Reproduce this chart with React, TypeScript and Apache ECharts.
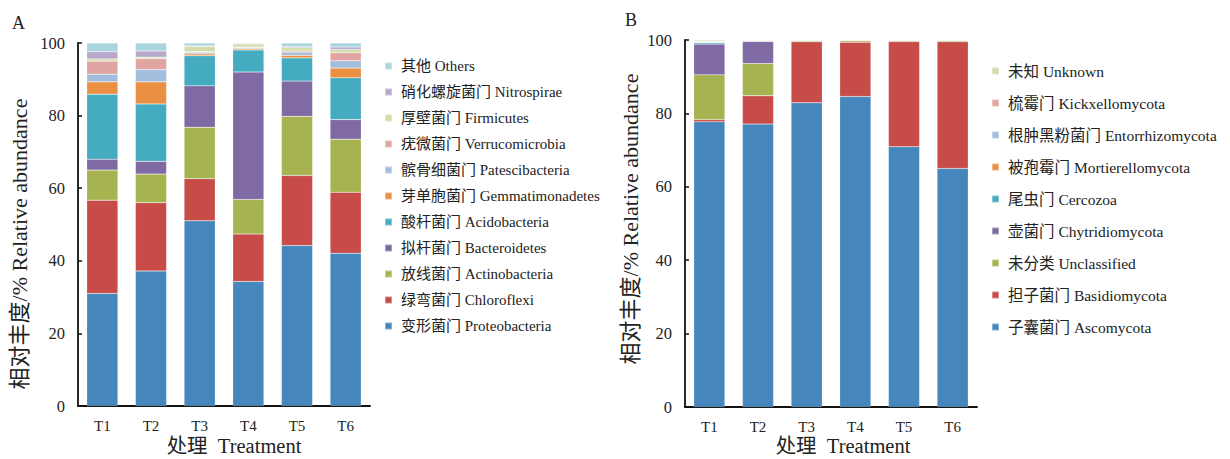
import React, { useEffect, useRef } from "react";
import * as echarts from "echarts";

const categories = ["T1", "T2", "T3", "T4", "T5", "T6"];
const yTicks = [0, 20, 40, 60, 80, 100];

// Panel A: bacteria (bottom to top)
const bacteriaNames = [
  "变形菌门 Proteobacteria",
  "绿弯菌门 Chloroflexi",
  "放线菌门 Actinobacteria",
  "拟杆菌门 Bacteroidetes",
  "酸杆菌门 Acidobacteria",
  "芽单胞菌门 Gemmatimonadetes",
  "髌骨细菌门 Patescibacteria",
  "疣微菌门 Verrucomicrobia",
  "厚壁菌门 Firmicutes",
  "硝化螺旋菌门 Nitrospirae",
  "其他 Others",
];
const proteobacteria = [31.0, 37.2, 51.0, 34.3, 44.2, 42.1];
const chloroflexi = [25.7, 18.8, 11.6, 13.1, 19.3, 16.8];
const actinobacteria = [8.3, 7.9, 14.2, 9.5, 16.3, 14.6];
const bacteroidetes = [3.0, 3.5, 11.4, 35.1, 9.7, 5.4];
const acidobacteria = [17.9, 15.8, 8.3, 6.1, 6.4, 11.5];
const gemmatimonadetes = [3.4, 6.1, 0.5, 0.3, 0.7, 2.7];
const patescibacteria = [2.1, 3.4, 0.4, 0.3, 0.9, 2.0];
const verrucomicrobia = [3.6, 3.0, 0.2, 0.2, 0.3, 2.2];
const firmicutes = [0.6, 0.4, 1.4, 0.8, 0.9, 0.9];
const nitrospirae = [2.0, 1.7, 0.2, 0.2, 0.3, 0.7];
const othersA = [2.4, 2.2, 0.8, 0.1, 1.0, 1.1];
const bacteriaValues = [
  proteobacteria, chloroflexi, actinobacteria, bacteroidetes, acidobacteria,
  gemmatimonadetes, patescibacteria, verrucomicrobia, firmicutes, nitrospirae, othersA,
];

// Panel B: fungi (bottom to top)
const fungiNames = [
  "子囊菌门 Ascomycota",
  "担子菌门 Basidiomycota",
  "未分类 Unclassified",
  "壶菌门 Chytridiomycota",
  "尾虫门 Cercozoa",
  "被孢霉门 Mortierellomycota",
  "根肿黑粉菌门 Entorrhizomycota",
  "梳霉门 Kickxellomycota",
  "未知 Unknown",
];
const ascomycota = [77.7, 77.1, 82.9, 84.6, 70.9, 65.0];
const basidiomycota = [0.6, 7.7, 16.6, 14.8, 28.7, 34.5];
const unclassified = [12.2, 8.8, 0.3, 0.4, 0.3, 0.4];
const chytridiomycota = [8.4, 6.0, 0.0, 0.0, 0.0, 0.0];
const cercozoa = [0.4, 0.1, 0.0, 0.0, 0.0, 0.0];
const mortierellomycota = [0.1, 0.2, 0.0, 0.2, 0.0, 0.0];
const entorrhizomycota = [0.2, 0.0, 0.2, 0.0, 0.0, 0.0];
const kickxellomycota = [0.1, 0.0, 0.0, 0.0, 0.0, 0.0];
const unknown = [0.3, 0.1, 0.0, 0.0, 0.1, 0.1];
const fungiValues = [
  ascomycota, basidiomycota, unclassified, chytridiomycota, cercozoa,
  mortierellomycota, entorrhizomycota, kickxellomycota, unknown,
];

const yAxisTitle = "相对丰度/% Relative abundance";
const xAxisTitle = "处理  Treatment";

const palette = [
  "#4587BD", "#C74C48", "#A6B350", "#7F6AA4", "#44ABC0", "#EB9042",
  "#A3BDDC", "#E0A5A2", "#D3DCA6", "#B7A9CB", "#A9D5DE",
];
const fungiPalette = [
  "#4587BD", "#C74C48", "#A6B350", "#7F6AA4", "#44ABC0", "#EB9042",
  "#A3BDDC", "#E0A5A2", "#D3DCA6",
];

const FONT = "'Liberation Serif', 'Noto Sans CJK SC', serif";
const TXT = "#222";

export default function App() {
  const ref = useRef<HTMLDivElement>(null);
  useEffect(() => {
    document.body.style.margin = "0";
    if (!ref.current) return;
    const chart = echarts.init(ref.current, undefined, { renderer: "svg" });
    const axisLine = { lineStyle: { color: "#111", width: 1.8 } };
    const tick = { inside: true, length: 4, lineStyle: { color: "#111", width: 1.5 } };
    const mkX = (gridIndex: number) => ({
      type: "category",
      gridIndex,
      data: categories,
      axisLine,
      axisTick: tick,
      axisLabel: { color: TXT, fontFamily: FONT, fontSize: 15, margin: 12 },
    });
    const mkY = (gridIndex: number) => ({
      type: "value",
      gridIndex,
      min: yTicks[0],
      max: yTicks[yTicks.length - 1],
      interval: yTicks[1] - yTicks[0],
      axisLine: { show: true, ...axisLine },
      axisTick: { show: true, ...tick },
      splitLine: { show: false },
      axisLabel: { color: TXT, fontFamily: FONT, fontSize: 16.5, margin: 13 },
    });
    const seriesA = bacteriaNames.map((name, i) => ({
      name,
      type: "bar",
      stack: "A",
      xAxisIndex: 0,
      yAxisIndex: 0,
      barWidth: "64%",
      itemStyle: { color: palette[i], borderColor: "rgba(255,255,255,0.35)", borderWidth: 0.5 },
      data: bacteriaValues[i],
    }));
    const seriesB = fungiNames.map((name, i) => ({
      name,
      type: "bar",
      stack: "B",
      xAxisIndex: 1,
      yAxisIndex: 1,
      barWidth: "64%",
      itemStyle: { color: fungiPalette[i], borderColor: "rgba(255,255,255,0.35)", borderWidth: 0.5 },
      data: fungiValues[i],
    }));
    const legendText = { color: TXT, fontFamily: FONT, fontSize: 15, lineHeight: 16, padding: [0, 0, 0, 4] };
    const titleStyle = (extra: any) => ({
      text: extra.text,
      fontFamily: FONT,
      fontSize: extra.size,
      fill: TXT,
      align: "center",
      verticalAlign: "middle",
      textAlign: "center",
      textVerticalAlign: "middle",
    });
    chart.setOption({
      animation: false,
      grid: [
        { left: 78, top: 43, width: 292, height: 363 },
        { left: 685, top: 40, width: 292, height: 367 },
      ],
      xAxis: [mkX(0), mkX(1)],
      yAxis: [mkY(0), mkY(1)],
      legend: [
        {
          orient: "vertical",
          left: 379,
          top: 53,
          itemWidth: 7,
          itemHeight: 7,
          itemGap: 10,
          icon: "rect",
          data: [...bacteriaNames].reverse(),
          textStyle: legendText,
        },
        {
          orient: "vertical",
          left: 986,
          top: 58,
          itemWidth: 7,
          itemHeight: 7,
          itemGap: 16,
          icon: "rect",
          data: [...fungiNames].reverse(),
          textStyle: { ...legendText, fontSize: 15.5 },
        },
      ],
      graphic: [
        { type: "text", left: 12, top: 14, style: { text: "A", fontFamily: FONT, fontSize: 18, fill: TXT } },
        { type: "text", left: 625, top: 11, style: { text: "B", fontFamily: FONT, fontSize: 18, fill: TXT } },
        { type: "text", x: 19, y: 244, rotation: Math.PI / 2, style: titleStyle({ text: yAxisTitle, size: 22 }) },
        { type: "text", x: 630, y: 219, rotation: Math.PI / 2, style: titleStyle({ text: yAxisTitle, size: 22 }) },
        { type: "text", x: 234, y: 446, style: titleStyle({ text: xAxisTitle, size: 20.5 }) },
        { type: "text", x: 843, y: 446, style: titleStyle({ text: xAxisTitle, size: 20.5 }) },
      ],
      series: [...seriesA, ...seriesB],
    });
    return () => chart.dispose();
  }, []);
  return <div ref={ref} style={{ width: 1230, height: 459 }} />;
}
